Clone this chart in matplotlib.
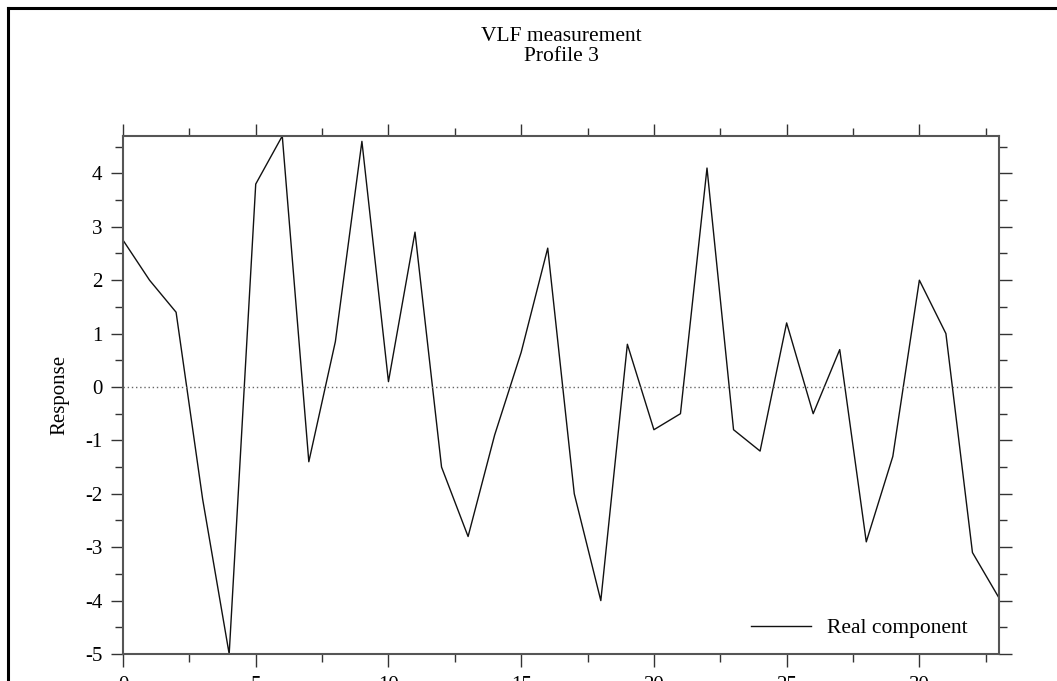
import matplotlib
matplotlib.use("Agg")
import matplotlib.pyplot as plt
from matplotlib.lines import Line2D
from matplotlib.ticker import MultipleLocator

# Station index along the profile and measured real component
stations = list(range(34))
real_component = [2.75, 2.0, 1.4, -2.1, -5.0, 3.8, 4.7, -1.4, 0.85, 4.6,
                  0.1, 2.9, -1.5, -2.8, -0.9, 0.65, 2.6, -2.0, -4.0, 0.8,
                  -0.8, -0.5, 4.1, -0.8, -1.2, 1.2, -0.5, 0.7, -2.9, -1.3,
                  2.0, 1.0, -3.1, -3.95]

title_lines = ["VLF measurement", "Profile 3"]
y_label = "Response"
series_label = "Real component"

plt.rcParams["font.family"] = ["Liberation Serif", "DejaVu Serif"]
plt.rcParams["axes.unicode_minus"] = False

W, H = 1057, 681
fig = plt.figure(figsize=(W / 100, H / 100), dpi=100)
fig.patch.set_facecolor("white")

# outer frame (top and left edges visible)
fig.add_artist(Line2D([8 / W, 1.02], [1 - 7.5 / H, 1 - 7.5 / H],
                      transform=fig.transFigure, color="black", lw=2.2,
                      solid_capstyle="projecting"))
fig.add_artist(Line2D([8 / W, 8 / W], [1 - 7.5 / H, -0.05],
                      transform=fig.transFigure, color="black", lw=2.2,
                      solid_capstyle="projecting"))

left, right, top, bottom = 123, 999, 136, 654
ax = fig.add_axes([left / W, 1 - bottom / H, (right - left) / W, (bottom - top) / H])

ax.plot(stations, real_component, color="#111111", lw=1.0, label=series_label)
ax.axhline(0, color="#666666", lw=1.0, ls=(0, (1, 2)))

ax.set_xlim(0, 33)
ax.set_ylim(-5, 4.7)
ax.xaxis.set_major_locator(MultipleLocator(5))
ax.xaxis.set_minor_locator(MultipleLocator(2.5))
ax.yaxis.set_major_locator(MultipleLocator(1))
ax.yaxis.set_minor_locator(MultipleLocator(0.5))

for s in ax.spines.values():
    s.set_color("#555555")
    s.set_linewidth(1.5)

ax.tick_params(which="both", direction="out", top=True, right=True,
               labeltop=False, labelright=False, color="#333333", width=1.0,
               labelsize=15, labelcolor="black")
ax.tick_params(which="major", length=9)
ax.tick_params(which="minor", length=5.5)
ax.tick_params(axis="y", which="major", pad=6)
ax.tick_params(axis="x", which="major", pad=7)

ax.set_ylabel(y_label, fontsize=15, va="center")
ax.yaxis.set_label_coords((60 - left) / (right - left), 0.5)

ax.set_title("\n".join(title_lines), fontsize=15.5, pad=0, linespacing=1.05,
             va="bottom", y=1 + (top - 66) / (bottom - top))

leg = ax.legend(loc="center left", frameon=False, fontsize=15.5,
                handlelength=2.8, handletextpad=0.75, borderpad=0,
                borderaxespad=0,
                bbox_to_anchor=((751 - left) / (right - left), (bottom - 628) / (bottom - top)))

fig.savefig("out.png", dpi=100)
